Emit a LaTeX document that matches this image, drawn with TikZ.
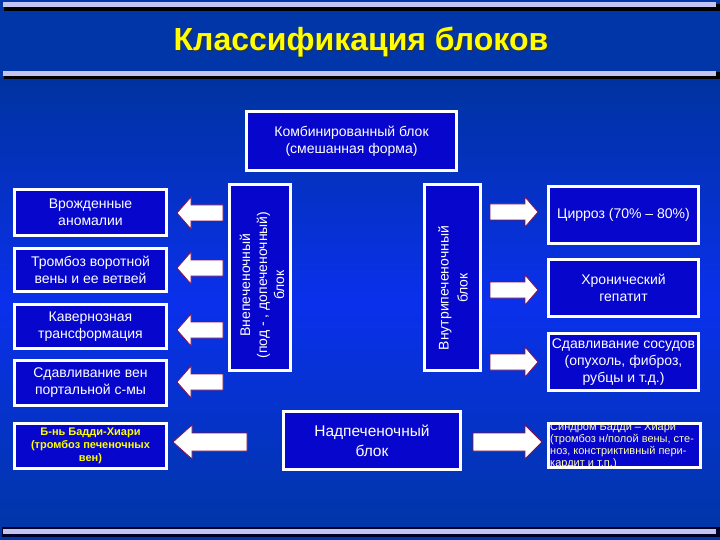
\documentclass[tikz,border=0pt]{standalone}
\usepackage{fontspec}
\setmainfont{Liberation Sans}
\definecolor{bgtop}{HTML}{0036A8}
\definecolor{bgmid}{HTML}{0A30EC}
\definecolor{bgbot}{HTML}{0033A0}
\definecolor{boxblue}{HTML}{0606CC}
\definecolor{lav}{HTML}{C4C4F2}
\definecolor{arrowedge}{HTML}{8A1048}
\definecolor{paleyellow}{HTML}{FFFFB0}
\definecolor{titleyellow}{HTML}{FFFF00}
\tikzset{
  box/.style={draw=white, line width=3pt, fill=boxblue, text=white, align=center,
    inner sep=0pt, font=\fontsize{14}{17}\selectfont},
  blockarrow/.style={fill=white, draw=arrowedge, line width=0.8pt, line join=miter},
}
% #1 tip x, #2 head base x, #3 tail x, #4 y, #5 shaft half height, #6 head half height
\newcommand\barrow[6]{%
  \filldraw[blockarrow] ({#1},{#4}) -- ({#2},{#4-#6}) -- ({#2},{#4-#5}) -- ({#3},{#4-#5})
    -- ({#3},{#4+#5}) -- ({#2},{#4+#5}) -- ({#2},{#4+#6}) -- cycle;}
\begin{document}
\begin{tikzpicture}[x=1pt,y=-1pt]
\useasboundingbox (0,0) rectangle (720,540);
% background
\fill[bgtop] (0,0) rectangle (720,540);
\shade[top color=bgbot, bottom color=bgtop, middle color=bgmid] (0,78) rectangle (720,527);
% rule lines
\fill[black] (4,4) rectangle (720,11);
\fill[lav] (3,2) rectangle (716,7);
\fill[black] (4,72) rectangle (720,79);
\fill[lav] (3,71) rectangle (716,76);
\fill[black!85!blue] (2,527) rectangle (720,537);
\fill[lav] (3,529) rectangle (716,534);
% title
\node[font=\bfseries\fontsize{32}{36}\selectfont, text=black!80] at (362.5,43.5) {Классификация блоков};
\node[font=\bfseries\fontsize{32}{36}\selectfont, text=titleyellow] (title) at (361,42) {Классификация блоков};
% central boxes
\node[box, minimum width=210pt, minimum height=59pt] (comb) at (351.5,141)
  {Комбинированный блок\\(смешанная форма)};
\node[box, minimum width=61pt, minimum height=186pt] (extra) at (260,277.5) {};
\node[rotate=90, text=white, align=center, font=\fontsize{14}{17}\selectfont] at (262,285)
  {Внепеченочный\\(под - , допеченочный)\\блок};
\node[box, minimum width=56pt, minimum height=186pt] (intra) at (452.5,277.5) {};
\node[rotate=90, text=white, align=center, font=\fontsize{14}{19}\selectfont] at (453,288)
  {Внутрипеченочный\\блок};
\node[box, minimum width=177pt, minimum height=58pt, font=\fontsize{15.5}{20}\selectfont] (supra) at (372,440.5)
  {Надпеченочный\\блок};
% left boxes
\node[box, minimum width=152pt, minimum height=46pt] (l1) at (90.5,212.5) {Врожденные\\аномалии};
\node[box, minimum width=152pt, minimum height=43pt] (l2) at (90.5,270) {Тромбоз воротной\\вены и ее ветвей};
\node[box, minimum width=152pt, minimum height=44pt] (l3) at (90.5,326.5) {Кавернозная\\трансформация};
\node[box, minimum width=152pt, minimum height=45pt] (l4) at (90.5,383) {Сдавливание вен\\портальной с-мы};
\node[box, minimum width=152pt, minimum height=45pt, text=titleyellow,
  font=\bfseries\fontsize{11}{13}\selectfont] (l5) at (90.5,446)
  {Б-нь Бадди-Хиари\\(тромбоз печеночных\\вен)};
% right boxes
\node[box, minimum width=150pt, minimum height=57pt] (r1) at (623.5,215) {Цирроз (70\% -- 80\%)};
\node[box, minimum width=150pt, minimum height=57pt] (r2) at (623.5,288) {Хронический\\гепатит};
\node[box, minimum width=150pt, minimum height=57pt] (r3) at (623.5,362) {Сдавливание сосудов\\(опухоль, фиброз,\\рубцы и т.д.)};
\node[box, minimum width=152pt, minimum height=44pt] (r4) at (624.5,445.5) {};
\node[anchor=north west, inner sep=0pt, text=paleyellow, align=left,
  font=\fontsize{11}{12}\selectfont] (r4text) at (550,423)
  {Синдром Бадди -- Хиари\\(тромбоз н/полой вены, сте-\\ноз, констриктивный пери-\\кардит и т.п.)};
% arrows
\barrow{177}{191}{223}{213}{8}{16}
\barrow{177}{191}{223}{268}{8}{16}
\barrow{177}{191}{223}{330}{8}{16}
\barrow{177}{191}{223}{382}{8}{16}
\barrow{173}{192}{247}{442}{9}{17}
\barrow{538}{525}{490}{212}{8}{15}
\barrow{538}{525}{490}{290}{8}{15}
\barrow{538}{525}{490}{362}{8}{15}
\barrow{542}{525}{473}{442}{9}{17}
\end{tikzpicture}
\end{document}
